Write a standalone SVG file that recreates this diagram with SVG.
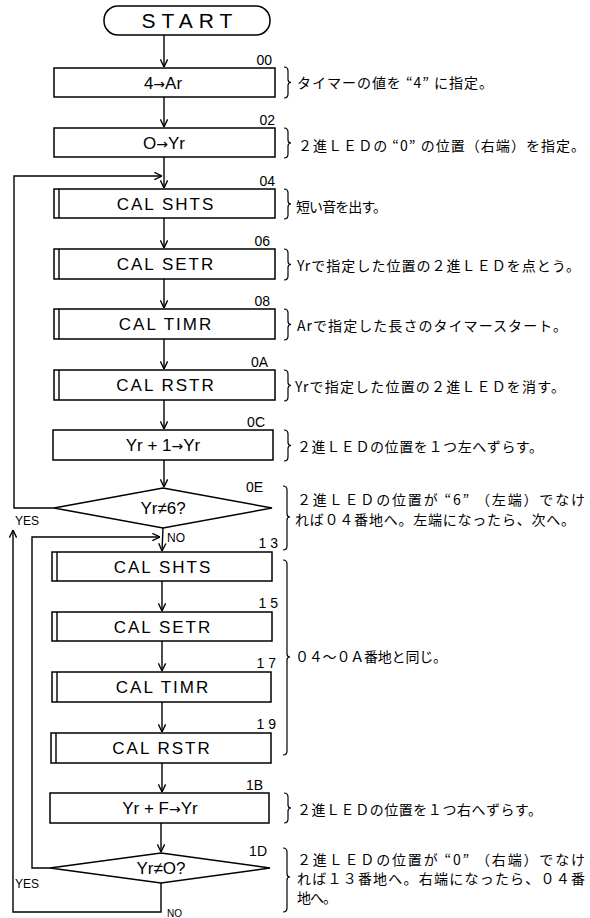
<svg xmlns="http://www.w3.org/2000/svg" width="590" height="918" viewBox="0 0 590 918">
<defs>
<marker id="ah" viewBox="0 0 10 10" refX="9.5" refY="5" markerWidth="9" markerHeight="9" markerUnits="userSpaceOnUse" orient="auto">
<path d="M1,1 L9.5,5 L1,9" fill="none" stroke="#000" stroke-width="1.5"/>
</marker>
</defs>
<style>
.bx{fill:#fff;stroke:#000;stroke-width:1.5}
.ln{fill:none;stroke:#000;stroke-width:1.4}
.br{fill:none;stroke:#000;stroke-width:1.2}
.t{font-family:"Liberation Sans",Arial,sans-serif;font-size:17px;text-anchor:middle;fill:#000}
.ar{font-family:"DejaVu Sans",sans-serif;font-size:14px}
.cal{letter-spacing:2px}
.lb{font-family:"Liberation Sans",Arial,sans-serif;font-size:14px;text-anchor:end;fill:#000}
.sm{font-family:"Liberation Sans",Arial,sans-serif;font-size:12px;fill:#000}
.jp{font-family:"Noto Sans CJK JP","Liberation Sans",sans-serif;font-size:14px;fill:#000}
</style>
<rect width="590" height="918" fill="#fff"/>

<g id="connectors">
<path class="ln" d="M164,35 V67" marker-end="url(#ah)"/>
<path class="ln" d="M164,97 V127" marker-end="url(#ah)"/>
<path class="ln" d="M164,157 V188" marker-end="url(#ah)"/>
<path class="ln" d="M164,218 V248" marker-end="url(#ah)"/>
<path class="ln" d="M164,279 V308" marker-end="url(#ah)"/>
<path class="ln" d="M164,339 V369" marker-end="url(#ah)"/>
<path class="ln" d="M164,400 V429" marker-end="url(#ah)"/>
<path class="ln" d="M164,460 V487" marker-end="url(#ah)"/>
<path class="ln" d="M54,508 H14 V176 H162" marker-end="url(#ah)"/>
<path class="ln" d="M163,528 L162,551" marker-end="url(#ah)"/>
<path class="ln" d="M162,581 V611" marker-end="url(#ah)"/>
<path class="ln" d="M162,641 V671" marker-end="url(#ah)"/>
<path class="ln" d="M162,702 V732" marker-end="url(#ah)"/>
<path class="ln" d="M162,763 V792" marker-end="url(#ah)"/>
<path class="ln" d="M161,823 V852" marker-end="url(#ah)"/>
<path class="ln" d="M50,868 H32 V537 H160" marker-end="url(#ah)"/>
<path class="ln" d="M161,883 V912 H13 V530" marker-end="url(#ah)"/>
<text class="sm" x="15" y="525">YES</text>
<text class="sm" x="167" y="542">NO</text>
<text class="sm" x="15" y="888">YES</text>
<text class="sm" x="167" y="917" style="font-size:10px">NO</text>
</g>

<g id="start">
<rect class="bx" x="104" y="6" width="166" height="29" rx="14" ry="14"/>
<text class="t" x="190" y="28" style="font-size:21px;letter-spacing:6px">START</text>
</g>

<g id="n00">
<rect class="bx" x="54" y="68" width="221" height="29"/>
<text class="t" x="163" y="88.5">4<tspan class="ar">→</tspan>Ar</text>
<text class="lb" x="272" y="65">00</text>
</g>
<g id="n02">
<rect class="bx" x="54" y="128" width="221" height="29"/>
<text class="t" x="164" y="148.5">O<tspan class="ar">→</tspan>Yr</text>
<text class="lb" x="275" y="125">02</text>
</g>
<g id="n04">
<rect class="bx" x="54" y="189" width="221" height="29"/>
<line class="ln" x1="59" y1="189" x2="59" y2="218"/>
<text class="t cal" x="166" y="209.5">CAL SHTS</text>
<text class="lb" x="275" y="186">04</text>
</g>
<g id="n06">
<rect class="bx" x="54" y="249" width="221" height="30"/>
<line class="ln" x1="59" y1="249" x2="59" y2="279"/>
<text class="t cal" x="166" y="270">CAL SETR</text>
<text class="lb" x="270" y="246">06</text>
</g>
<g id="n08">
<rect class="bx" x="54" y="309" width="221" height="30"/>
<line class="ln" x1="59" y1="309" x2="59" y2="339"/>
<text class="t cal" x="166" y="330">CAL TIMR</text>
<text class="lb" x="270" y="306">08</text>
</g>
<g id="n0A">
<rect class="bx" x="54" y="370" width="221" height="30"/>
<line class="ln" x1="59" y1="370" x2="59" y2="400"/>
<text class="t cal" x="166" y="391">CAL RSTR</text>
<text class="lb" x="268" y="367">0A</text>
</g>
<g id="n0C">
<rect class="bx" x="53" y="430" width="220" height="30"/>
<text class="t" x="163" y="451">Yr + 1<tspan class="ar">→</tspan>Yr</text>
<text class="lb" x="265" y="427">0C</text>
</g>
<g id="n0E">
<polygon class="bx" points="163,488 272,508 163,528 54,508"/>
<text class="t" x="163" y="514">Yr≠6?</text>
<text class="lb" x="263" y="492">0E</text>
</g>

<g id="n13">
<rect class="bx" x="52" y="552" width="220" height="29"/>
<line class="ln" x1="57" y1="552" x2="57" y2="581"/>
<text class="t cal" x="163" y="572.5">CAL SHTS</text>
<text class="lb" x="278" y="548">1 3</text>
</g>
<g id="n15">
<rect class="bx" x="52" y="612" width="220" height="29"/>
<line class="ln" x1="57" y1="612" x2="57" y2="641"/>
<text class="t cal" x="163" y="632.5">CAL SETR</text>
<text class="lb" x="278" y="608">1 5</text>
</g>
<g id="n17">
<rect class="bx" x="52" y="672" width="219" height="30"/>
<line class="ln" x1="57" y1="672" x2="57" y2="702"/>
<text class="t cal" x="163" y="693">CAL TIMR</text>
<text class="lb" x="276" y="668">1 7</text>
</g>
<g id="n19">
<rect class="bx" x="51" y="733" width="220" height="30"/>
<line class="ln" x1="56" y1="733" x2="56" y2="763"/>
<text class="t cal" x="162" y="754">CAL RSTR</text>
<text class="lb" x="276" y="729">1 9</text>
</g>
<g id="n1B">
<rect class="bx" x="50" y="793" width="219" height="30"/>
<text class="t" x="160" y="814">Yr + F<tspan class="ar">→</tspan>Yr</text>
<text class="lb" x="263" y="790">1B</text>
</g>
<g id="n1D">
<polygon class="bx" points="161,853 270,868 161,883 50,868"/>
<text class="t" x="161" y="874">Yr≠O?</text>
<text class="lb" x="267" y="856">1D</text>
</g>

<g id="notes">
<path class="br" d="M284,67 Q288,67 288,71 V79.5 Q288,82.5 291,82.5 Q288,82.5 288,85.5 V94 Q288,98 284,98"/>
<text class="jp" x="297" y="88" textLength="196">タイマーの値を “4” に指定。</text>
<path class="br" d="M284,128 Q288,128 288,132 V140 Q288,143 291,143 Q288,143 288,146 V154 Q288,158 284,158"/>
<text class="jp" x="298" y="151" textLength="287">２進ＬＥＤの “0” の位置（右端）を指定。</text>
<path class="br" d="M284,189 Q288,189 288,193 V201 Q288,204 291,204 Q288,204 288,207 V215 Q288,219 284,219"/>
<text class="jp" x="296" y="212" textLength="91">短い音を出す。</text>
<path class="br" d="M284,249 Q288,249 288,253 V261.5 Q288,264.5 291,264.5 Q288,264.5 288,267.5 V276 Q288,280 284,280"/>
<text class="jp" x="297" y="271" textLength="283">Yrで指定した位置の２進ＬＥＤを点とう。</text>
<path class="br" d="M284,309 Q288,309 288,313 V321.5 Q288,324.5 291,324.5 Q288,324.5 288,327.5 V336 Q288,340 284,340"/>
<text class="jp" x="297" y="331" textLength="270">Arで指定した長さのタイマースタート。</text>
<path class="br" d="M284,370 Q288,370 288,374 V382.5 Q288,385.5 291,385.5 Q288,385.5 288,388.5 V397 Q288,401 284,401"/>
<text class="jp" x="295" y="392" textLength="270">Yrで指定した位置の２進ＬＥＤを消す。</text>
<path class="br" d="M284,430 Q288,430 288,434 V442.5 Q288,445.5 291,445.5 Q288,445.5 288,448.5 V457 Q288,461 284,461"/>
<text class="jp" x="297" y="452" textLength="246">２進ＬＥＤの位置を１つ左へずらす。</text>
<path class="br" d="M283,486 Q287,486 287,490 V514 Q287,517 290,517 Q287,517 287,520 V546 Q287,550 283,550"/>
<text class="jp" x="297" y="505" textLength="288">２進ＬＥＤの位置が “6” （左端）でなけ</text>
<text class="jp" x="295" y="525" textLength="280">れば０４番地へ。左端になったら、次へ。</text>
<path class="br" d="M283,560 Q287,560 287,564 V654 Q287,657 290,657 Q287,657 287,660 V751 Q287,755 283,755"/>
<text class="jp" x="295" y="662" textLength="152">０４～０Ａ番地と同じ。</text>
<path class="br" d="M284,793 Q288,793 288,797 V805 Q288,808 291,808 Q288,808 288,811 V819 Q288,823 284,823"/>
<text class="jp" x="297" y="815" textLength="245">２進ＬＥＤの位置を１つ右へずらす。</text>
<path class="br" d="M283,848 Q287,848 287,852 V874 Q287,877 290,877 Q287,877 287,880 V908 Q287,912 283,912"/>
<text class="jp" x="297" y="865" textLength="288">２進ＬＥＤの位置が “0” （右端）でなけ</text>
<text class="jp" x="297" y="884" textLength="288">れば１３番地へ。右端になったら、０４番</text>
<text class="jp" x="297" y="903" textLength="40">地へ。</text>
</g>
</svg>
